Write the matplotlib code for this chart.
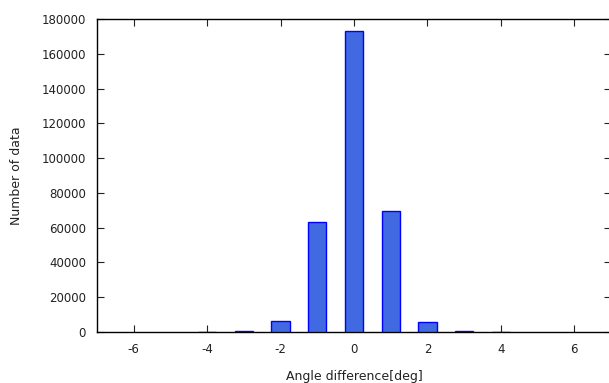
import numpy as np
import matplotlib.pyplot as plt

plt.rcParams["axes.unicode_minus"] = False

# angle difference histogram
angles = [-4, -3, -2, -1, 0, 1, 2, 3, 4]
counts = [60, 500, 6300, 63000, 173200, 69300, 5800, 500, 80]

xticks = [-6, -4, -2, 0, 2, 4, 6]
yticks = np.arange(0, 180001, 20000)

fig = plt.figure(figsize=(6.09, 3.83), dpi=100)
ax = fig.add_axes([97 / 609, 51 / 383, 514 / 609, 313 / 383])

ax.bar(angles, counts, width=0.5, color="#4169e1", edgecolor="#0000ff",
       linewidth=1.0, zorder=3)

ax.set_xlim(-7, 7)
ax.set_ylim(0, 180000)
ax.set_xticks(xticks)
ax.set_yticks(yticks)
ax.tick_params(direction="in", length=5, top=True, right=True,
               labelsize=8.5, colors="#222222", pad=8)
for s in ax.spines.values():
    s.set_linewidth(1.0)

ax.set_xlabel("Angle difference[deg]", fontsize=9, labelpad=10, color="#222222")
ax.set_ylabel("Number of data", fontsize=9, labelpad=13, color="#222222")

fig.savefig("out.png", dpi=100)
